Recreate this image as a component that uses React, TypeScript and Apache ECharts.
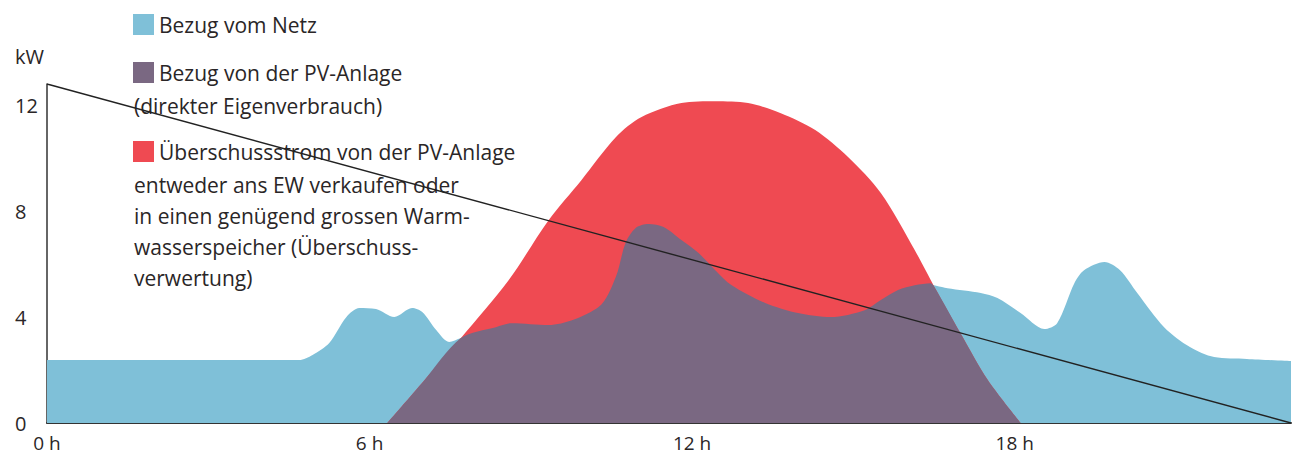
import React, { useEffect, useRef } from "react";
import * as echarts from "echarts";

// hours, kW
const loadCurve: [number, number][] = [
  [0, 2.38], [4.69, 2.38], [4.94, 2.57], [5.25, 3.02], [5.57, 4.0], [5.81, 4.34], [6.12, 4.3],
  [6.46, 4.0], [6.79, 4.34], [6.98, 4.19], [7.24, 3.51], [7.48, 3.06], [7.7, 3.21],
  [8.35, 3.62], [8.65, 3.77], [9.33, 3.7], [10.26, 4.38], [10.58, 5.51], [10.76, 6.79],
  [10.95, 7.36], [11.19, 7.51], [11.47, 7.4], [11.8, 6.91], [12.12, 6.42], [12.43, 5.77],
  [12.73, 5.21], [13.36, 4.53], [13.97, 4.15], [14.58, 4.0], [15.21, 4.26], [15.51, 4.64],
  [15.83, 5.02], [16.33, 5.25], [16.75, 5.09], [17.37, 4.91], [17.68, 4.72], [18.11, 4.15],
  [18.55, 3.55], [18.79, 3.77], [19.11, 5.28], [19.29, 5.77], [19.67, 6.08], [19.96, 5.77],
  [20.28, 4.91], [20.78, 3.62], [21.26, 2.87], [21.71, 2.49], [22.32, 2.42], [23.14, 2.34],
];

const pvCurve: [number, number][] = [
  [6.33, 0], [7.0, 1.57], [7.7, 3.21], [8.59, 5.4], [9.33, 7.66], [9.94, 9.17], [10.58, 10.79],
  [11.06, 11.55], [11.8, 12.08], [12.43, 12.15], [13.04, 12.08], [13.65, 11.7], [14.29, 11.06],
  [14.9, 10.04], [15.51, 8.68], [16.14, 6.53], [16.51, 5.13], [16.99, 3.4], [17.5, 1.62], [18.11, 0],
];

const selfUseCurve: [number, number][] = [
  [6.33, 0], [7.0, 1.57], [7.7, 3.21], [8.35, 3.62], [8.65, 3.77], [9.33, 3.7], [10.26, 4.38],
  [10.58, 5.51], [10.76, 6.79], [10.95, 7.36], [11.19, 7.51], [11.47, 7.4], [11.8, 6.91],
  [12.12, 6.42], [12.43, 5.77], [12.73, 5.21], [13.36, 4.53], [13.97, 4.15], [14.58, 4.0],
  [15.21, 4.26], [15.51, 4.64], [15.83, 5.02], [16.14, 5.2], [16.44, 5.28], [16.51, 5.13],
  [16.99, 3.4], [17.5, 1.62], [18.11, 0],
];

const diagonal: [number, number][] = [[0, 12.8], [23.14, 0]];

const xTicks = [0, 6, 12, 18];
const yTicks = [0, 4, 8, 12];

const legendItems = [
  { color: "#7FC0D8", first: "Bezug vom Netz", more: [] as string[], y: 25 },
  { color: "#7A6882", first: "Bezug von der PV-Anlage", more: ["(direkter Eigenverbrauch)"], y: 73 },
  {
    color: "#EF4A52",
    first: "Überschussstrom von der PV-Anlage",
    more: [
      "entweder ans EW verkaufen oder",
      "in einen genügend grossen Warm-",
      "wasserspeicher (Überschuss-",
      "verwertung)",
    ],
    y: 152,
  },
];

const FONT = "'Open Sans', sans-serif";
const TEXT = "#2a2627";

export default function App() {
  const ref = useRef<HTMLDivElement>(null);
  useEffect(() => {
    if (!ref.current) return;
    const chart = echarts.init(ref.current, undefined, { renderer: "svg" });
    const graphics: any[] = [
      {
        type: "text",
        x: 15,
        y: 56,
        style: { text: "kW", fontSize: 20, fontFamily: FONT, fill: TEXT, verticalAlign: "middle" },
      },
    ];
    legendItems.forEach((it) => {
      graphics.push({
        type: "rect",
        shape: { x: 133, y: it.y - 11, width: 21, height: 21 },
        style: { fill: it.color },
      });
      graphics.push({
        type: "text",
        x: 159,
        y: it.y,
        style: { text: it.first, fontSize: 21, fontFamily: FONT, fill: TEXT, verticalAlign: "middle" },
      });
      it.more.forEach((line, i) => {
        graphics.push({
          type: "text",
          x: 134,
          y: it.y + 33 + i * 31,
          style: { text: line, fontSize: 21, fontFamily: FONT, fill: TEXT, verticalAlign: "middle" },
        });
      });
    });

    const area = (name: string, data: [number, number][], color: string, z: number) => ({
      name,
      type: "line",
      data,
      smooth: 0.3,
      showSymbol: false,
      symbol: "none",
      z,
      lineStyle: { width: 0, color },
      itemStyle: { color },
      areaStyle: { color, opacity: 1 },
    });

    chart.setOption({
      animation: false,
      grid: { left: 47, right: 0, top: 84, bottom: 34 },
      xAxis: {
        type: "value",
        min: 0,
        max: 23.14,
        interval: 6,
        axisLine: { show: true, lineStyle: { color: "#333", width: 2 } },
        axisTick: { show: false },
        splitLine: { show: false },
        axisLabel: {
          fontSize: 19,
          fontFamily: FONT,
          color: TEXT,
          margin: 10,
          formatter: (v: number) => (xTicks.includes(v) ? `${v} h` : ""),
        },
      },
      yAxis: {
        type: "value",
        min: 0,
        max: 12.8,
        interval: 4,
        axisLine: { show: true, lineStyle: { color: "#333", width: 1.5 } },
        axisTick: { show: false },
        splitLine: { show: false },
        axisLabel: {
          fontSize: 20,
          fontFamily: FONT,
          color: TEXT,
          align: "left",
          margin: 32,
          formatter: (v: number) => (yTicks.includes(v) ? `${v}` : ""),
        },
      },
      graphic: graphics,
      series: [
        area("Bezug vom Netz", loadCurve, "#7FC0D8", 1),
        area("Überschussstrom", pvCurve, "#EF4A52", 2),
        area("Bezug von der PV-Anlage", selfUseCurve, "#7A6882", 3),
        {
          type: "line",
          data: diagonal,
          showSymbol: false,
          symbol: "none",
          z: 5,
          lineStyle: { color: "#222", width: 1.4 },
        },
      ],
    });
    return () => chart.dispose();
  }, []);
  return <div ref={ref} style={{ width: 1294, height: 457, position: "absolute", left: 0, top: 0 }} />;
}
